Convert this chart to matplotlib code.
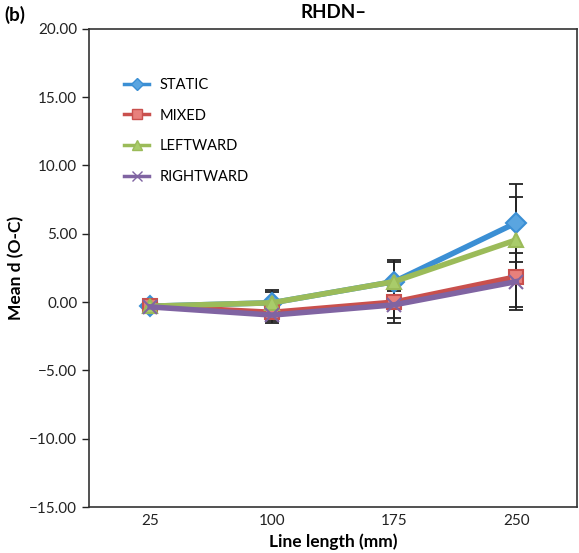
import matplotlib
matplotlib.use("Agg")
import matplotlib.pyplot as plt
from matplotlib.lines import Line2D

plt.rcParams['font.family'] = ['Lato', 'DejaVu Sans']
plt.rcParams['axes.unicode_minus'] = True

# data
lengths = ['25', '100', '175', '250']
static = [-0.3, -0.05, 1.5, 5.8]
mixed = [-0.3, -0.75, 0.0, 1.85]
leftward = [-0.3, -0.05, 1.5, 4.55]
rightward = [-0.35, -0.95, -0.2, 1.5]

static_err = [0.2, 0.95, 1.55, 2.85]
mixed_err = [0.2, 0.75, 1.5, 2.2]
leftward_err = [0.2, 0.8, 1.4, 3.15]
rightward_err = [0.2, 0.4, 1.0, 2.1]

series = [
    ('STATIC', static, static_err, '#3b8fd4', '#5aa5e0', 'D'),
    ('MIXED', mixed, mixed_err, '#c9504d', '#e8807c', 's'),
    ('LEFTWARD', leftward, leftward_err, '#9bbb59', '#a9cc6a', '^'),
    ('RIGHTWARD', rightward, rightward_err, '#8064a2', '#8f74b3', 'x'),
]

fig = plt.figure(figsize=(5.79, 5.53), dpi=100)
ax = fig.add_axes([0.154, 0.083, 0.843, 0.865])

x = list(range(len(lengths)))
handles = []
for i, (name, vals, errs, col, mcol, mk) in enumerate(series):
    ax.errorbar(x, vals, yerr=errs, fmt='none', ecolor='#222222',
                elinewidth=1.3, capsize=5, capthick=1.3, zorder=2)
    ax.plot(x, vals, color=col, linewidth=4, marker=mk, markersize=10,
            markerfacecolor=mcol, markeredgecolor=col, markeredgewidth=1.5,
            zorder=3 + i)
    handles.append(Line2D([], [], color=col, linewidth=2.5, marker=mk,
                          markersize=6.5, markerfacecolor=mcol,
                          markeredgecolor=col, label=name))

ax.set_xlim(-0.5, 3.5)
ax.set_ylim(-15, 20)
ax.set_yticks([-15, -10, -5, 0, 5, 10, 15, 20])
ax.set_yticklabels(['\u221215.00', '\u221210.00', '\u22125.00', '0.00',
                    '5.00', '10.00', '15.00', '20.00'])
ax.set_xticks(x)
ax.set_xticklabels(lengths)
ax.tick_params(axis='x', length=0, pad=5, labelsize=11, colors='#222222')
ax.tick_params(axis='y', length=5, width=1, labelsize=11, colors='#222222')
for s in ax.spines.values():
    s.set_linewidth(1.2)
    s.set_color('#333333')

ax.set_xlabel('Line length (mm)', fontsize=12.5, fontweight='bold', labelpad=4)
ax.set_ylabel('Mean d (O-C)', fontsize=12.5, fontweight='bold', labelpad=4)
ax.set_title('RHDN\u2013', fontsize=13.5, fontweight='bold', pad=8)
fig.text(0.008, 0.962, '(b)', fontsize=13.5, fontweight='bold')

ax.legend(handles=handles, loc='upper left', bbox_to_anchor=(0.045, 0.925),
          frameon=False, fontsize=10.5, handlelength=1.7, labelspacing=1.15,
          handletextpad=0.7)

fig.savefig('out.png', dpi=100)
